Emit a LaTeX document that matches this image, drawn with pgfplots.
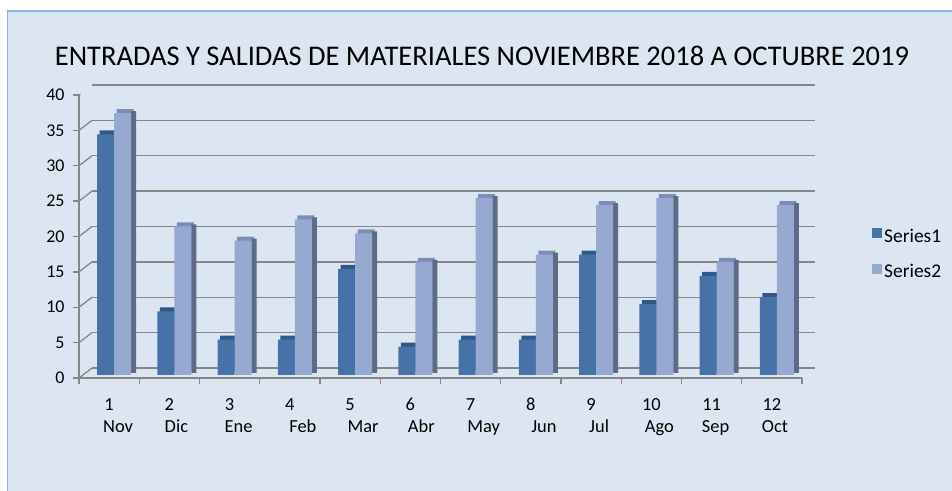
\documentclass[border=0pt]{standalone}
\usepackage{pgfplots}
\pgfplotsset{compat=1.18}
\usepackage{fontspec}
\setmainfont{Carlito}
\definecolor{bgc}{RGB}{220,230,242}
\definecolor{bordc}{RGB}{141,179,226}
\definecolor{gridc}{RGB}{134,134,134}
\definecolor{sAfront}{RGB}{70,114,167}
\definecolor{sAtop}{RGB}{50,88,138}
\definecolor{sAside}{RGB}{45,75,115}
\definecolor{sBfront}{RGB}{149,169,209}
\definecolor{sBtop}{RGB}{124,142,180}
\definecolor{sBside}{RGB}{93,107,135}
\newcommand{\xl}[3]{\strut#1\\\hspace*{#2}\strut#3}
\pgfplotstableread{
x s1 s2
0 34 37
1 9 21
2 5 19
3 5 22
4 15 20
5 4 16
6 5 25
7 5 17
8 17 24
9 10 25
10 14 16
11 11 24
}\datatable
\begin{document}
\begin{tikzpicture}[x=1bp,y=1bp]
\path[use as bounding box] (0,0) rectangle (952,491);
\fill[white] (0,0) rectangle (952,491);
\draw[line width=1.5bp, draw=bordc, fill=bgc] (7.5,480) rectangle (1000,-50);
\node[font=\fontsize{28.6}{32}\selectfont] at (482,435.5) {ENTRADAS Y SALIDAS DE MATERIALES NOVIEMBRE 2018 A OCTUBRE 2019};
\begin{axis}[
  at={(79bp,113bp)}, anchor=south west,
  scale only axis, width=723bp, height=283bp,
  xmin=-0.5, xmax=11.5, ymin=0, ymax=40,
  axis x line*=bottom, axis y line*=left,
  axis line style={draw=gridc, line width=1.3bp},
  tick align=outside, major tick length=6bp,
  tick style={draw=gridc, line width=1.3bp},
  ytick={0,5,...,40},
  yticklabel style={font=\fontsize{18}{21}\selectfont, xshift=-5bp},
  /pgf/number format/assume math mode=true,
  xtick={-0.5,0.5,...,11.5}, xticklabels={},
  extra x ticks={0,...,11},
  extra x tick labels={{\xl{1}{18bp}{Nov}},{\xl{2}{14bp}{Dic}},{\xl{3}{18bp}{Ene}},{\xl{4}{26bp}{Feb}},{\xl{5}{26bp}{Mar}},{\xl{6}{22bp}{Abr}},{\xl{7}{26bp}{May}},{\xl{8}{26bp}{Jun}},{\xl{9}{16bp}{Jul}},{\xl{10}{16bp}{Ago}},{\xl{11}{8bp}{Sep}},{\xl{12}{6bp}{Oct}}},
  extra x tick style={major tick length=0pt, grid=none, tick style={draw=none}},
  xticklabel style={font=\fontsize{18.5}{22}\selectfont, align=center, yshift=-14bp, anchor=north},
  ymajorgrids,
  major grid style={draw=gridc, line width=1.3bp, xshift=13bp, yshift=10bp},
  legend style={at={(1,0.438)}, anchor=west, xshift=70bp, draw=none, fill=none,
    font=\fontsize{19.5}{22}\selectfont, row sep=17bp, inner sep=0pt},
  legend cell align=left,
  legend image code/.code={\fill[#1] (0bp,-5bp) rectangle (10bp,5bp);},
]
\pgfplotsinvokeforeach{0,5,...,40}{
  \draw[gridc, line width=1.3bp] (axis cs:-0.5,#1) -- ++(13bp,10bp);
}
\draw[gridc, line width=1.3bp] (axis cs:11.5,0) -- ++(13bp,10bp);
% Series1 pseudo-3D
\addplot[ybar, bar width=0.2822, bar shift=-0.0166, draw=none, fill=sAtop, yshift=7bp, forget plot] table[x=x,y=s1]{\datatable};
\addplot[ybar, bar width=0.083, bar shift=0.1245, draw=none, fill=sAside, yshift=5bp, forget plot] table[x=x,y=s1]{\datatable};
\addplot[ybar, bar width=0.2822, bar shift=-0.0581, draw=none, fill=sAfront, yshift=3bp] table[x=x,y=s1]{\datatable};
\addlegendentry{Series1}
% Series2 pseudo-3D
\addplot[ybar, bar width=0.2822, bar shift=0.2656, draw=none, fill=sBtop, yshift=7bp, forget plot] table[x=x,y=s2]{\datatable};
\addplot[ybar, bar width=0.083, bar shift=0.4066, draw=none, fill=sBside, yshift=5bp, forget plot] table[x=x,y=s2]{\datatable};
\addplot[ybar, bar width=0.2822, bar shift=0.2241, draw=none, fill=sBfront, yshift=3bp] table[x=x,y=s2]{\datatable};
\addlegendentry{Series2}
\end{axis}
\end{tikzpicture}
\end{document}
